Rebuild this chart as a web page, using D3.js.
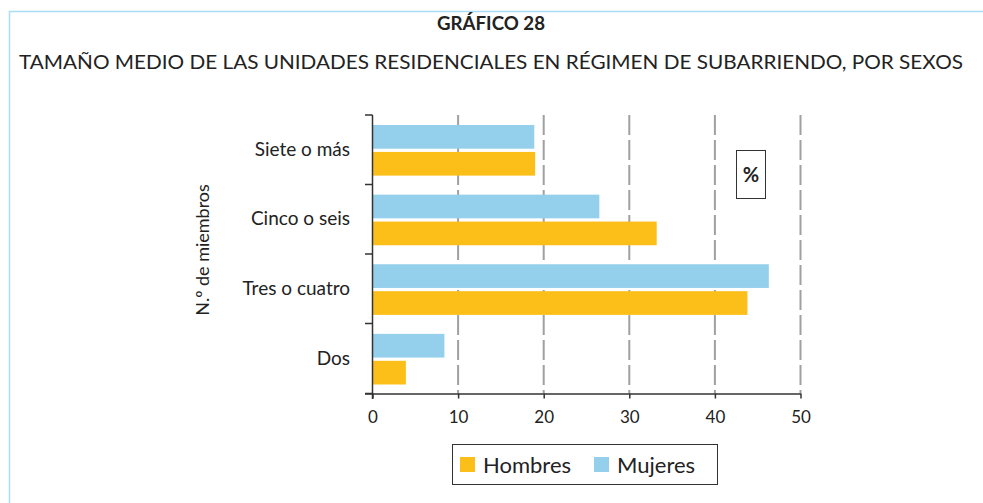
<!DOCTYPE html>
<html lang="es">
<head>
<meta charset="UTF-8">
<title>Gráfico 28</title>
<script src="https://d3js.org/d3.v7.min.js"></script>
<style>
  body { margin: 0; background: #fff; }
  text { font-family: Lato, "Open Sans", sans-serif; fill: #222; }
</style>
</head>
<body>
<div id="chart"></div>
<script>
// categorías de arriba abajo
const categories = ["Siete o más", "Cinco o seis", "Tres o cuatro", "Dos"]
const mujeres = [18.9, 26.5, 46.3, 8.4]
const hombres = [19.0, 33.2, 43.8, 3.9]
const xTicks = [0, 10, 20, 30, 40, 50]
const seriesNames = ["Hombres", "Mujeres"]
const colors = { Hombres: "#fcbf1a", Mujeres: "#94cfec" }

const width = 983, height = 503
const svg = d3.select("#chart").append("svg")
  .attr("width", width).attr("height", height)

// marco azul claro
svg.append("path")
  .attr("d", "M9.5,503 V11.5 H983")
  .attr("fill", "none").attr("stroke", "#a9dcf5").attr("stroke-width", 1.5)

// títulos
svg.append("text").attr("x", 491).attr("y", 30).attr("text-anchor", "middle")
  .style("font-weight", "bold").style("font-size", "19px")
  .attr("textLength", 108).attr("lengthAdjust", "spacingAndGlyphs").text("GRÁFICO 28")
svg.append("text").attr("x", 491).attr("y", 69).attr("text-anchor", "middle")
  .style("font-size", "19px")
  .attr("textLength", 944).attr("lengthAdjust", "spacingAndGlyphs")
  .text("TAMAÑO MEDIO DE LAS UNIDADES RESIDENCIALES EN RÉGIMEN DE SUBARRIENDO, POR SEXOS")

const x = d3.scaleLinear().domain([0, 50]).range([372.5, 800.5])
const y = d3.scaleBand().domain(categories).range([115, 393.5])
const inner = d3.scaleBand().domain(["Mujeres", "Hombres"]).range([10, y.bandwidth() - 9]).paddingInner(0.12)

// rejilla discontinua
svg.append("g").selectAll("line").data(xTicks.slice(1)).join("line")
  .attr("x1", d => x(d)).attr("x2", d => x(d))
  .attr("y1", 115).attr("y2", 393)
  .attr("stroke", "#a0a0a0").attr("stroke-width", 2)
  .attr("stroke-dasharray", "20,5")

// barras
const rows = categories.map((c, i) => ({ cat: c, Mujeres: mujeres[i], Hombres: hombres[i] }))
const g = svg.append("g").selectAll("g").data(rows).join("g")
  .attr("transform", d => `translate(0,${y(d.cat)})`)
g.selectAll("rect").data(d => ["Mujeres", "Hombres"].map(k => ({ key: k, value: d[k] }))).join("rect")
  .attr("x", x(0)).attr("y", d => inner(d.key))
  .attr("width", d => x(d.value) - x(0)).attr("height", inner.bandwidth())
  .attr("fill", d => colors[d.key])

// ejes
const xAxis = d3.axisBottom(x).tickValues(xTicks).tickSize(5).tickSizeOuter(0)
const gx = svg.append("g").attr("transform", "translate(0,393.5)").call(xAxis)
gx.select(".domain").attr("d", "M365,0.5H801").attr("stroke", "#333").attr("stroke-width", 1.5)
gx.selectAll(".tick line").attr("stroke", "#333").attr("stroke-width", 1.5)
gx.selectAll(".tick text").attr("y", 17).style("font-size", "17px").style("font-family", "Lato, sans-serif").attr("fill", "#222")

const yTickPos = [115, 184.5, 254, 323.5, 393.5]
const gy = svg.append("g")
gy.append("line").attr("x1", x(0)).attr("x2", x(0)).attr("y1", 115).attr("y2", 399)
  .attr("stroke", "#333").attr("stroke-width", 1.5)
gy.selectAll(".yt").data(yTickPos).join("line").attr("class", "yt")
  .attr("x1", 365).attr("x2", x(0)).attr("y1", d => d).attr("y2", d => d)
  .attr("stroke", "#333").attr("stroke-width", 1.5)
svg.append("g").selectAll("text").data(categories).join("text")
  .attr("x", 350).attr("y", d => y(d) + y.bandwidth() / 2 + 6)
  .attr("text-anchor", "end").style("font-size", "19px").text(d => d)

svg.append("text").attr("transform", "translate(209,250) rotate(-90)")
  .attr("text-anchor", "middle").style("font-size", "18px").text("N.º de miembros")

// caja %
svg.append("rect").attr("x", 736.5).attr("y", 150.5).attr("width", 29).attr("height", 48)
  .attr("fill", "#fff").attr("stroke", "#333").attr("stroke-width", 1)
svg.append("text").attr("x", 751).attr("y", 182).attr("text-anchor", "middle")
  .style("font-size", "20px").style("font-weight", "bold").text("%")

// leyenda
svg.append("rect").attr("x", 452.5).attr("y", 444.5).attr("width", 265).attr("height", 40)
  .attr("fill", "#fff").attr("stroke", "#333").attr("stroke-width", 1)
const leg = svg.append("g").selectAll("g").data(seriesNames).join("g")
  .attr("transform", (d, i) => `translate(${i === 0 ? 460 : 594},457)`)
leg.append("rect").attr("width", 15).attr("height", 15).attr("fill", d => colors[d])
leg.append("text").attr("x", 23).attr("y", 16).style("font-size", "22px").text(d => d)
</script>
</body>
</html>
